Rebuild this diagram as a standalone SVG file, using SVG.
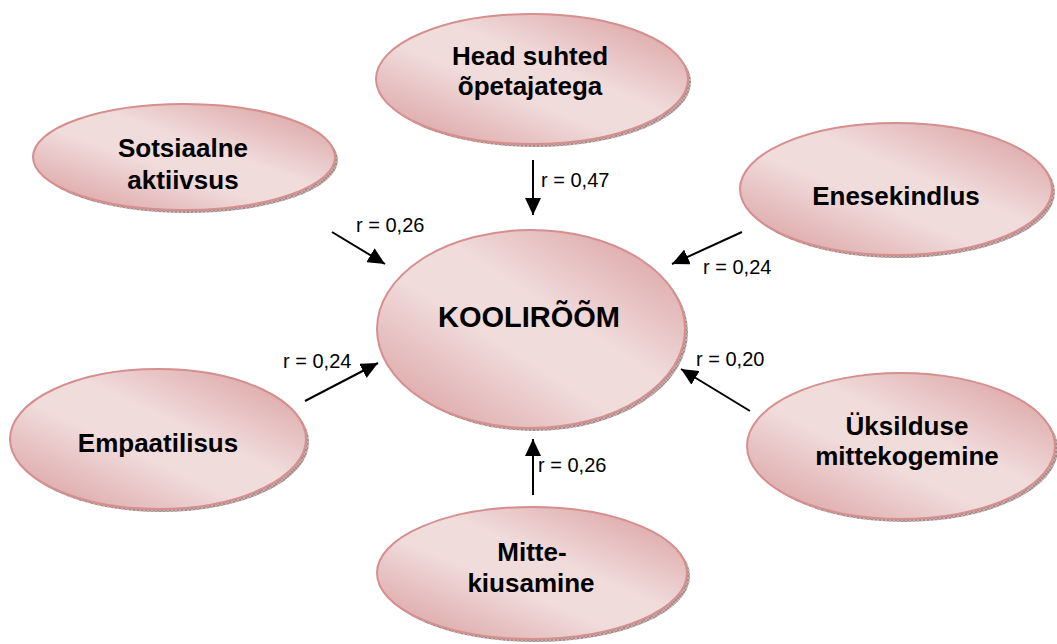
<svg xmlns="http://www.w3.org/2000/svg" width="1057" height="644" viewBox="0 0 1057 644">
<defs>
<linearGradient id="g" x1="1" y1="0" x2="0" y2="1">
<stop offset="0" stop-color="#d8999a"/>
<stop offset="0.42" stop-color="#f1dcdc"/>
<stop offset="0.58" stop-color="#f1dcdc"/>
<stop offset="1" stop-color="#d8999a"/>
</linearGradient>
<pattern id="hatch" width="4" height="4" patternUnits="userSpaceOnUse">
<rect width="4" height="4" fill="#c9aeae"/>
<path d="M0,0 L4,4 M4,0 L0,4" stroke="#8c7070" stroke-width="0.6"/>
</pattern>
<marker id="ah" markerUnits="userSpaceOnUse" markerWidth="18" markerHeight="16" refX="17" refY="8" orient="auto">
<path d="M0,0 L17,8 L0,16 Z" fill="#000"/>
</marker>
</defs>
<style>
.sh{fill:url(#hatch);}
.el{fill:url(#g);stroke:#d48f8e;stroke-width:2;}
.nt{font-family:"Liberation Sans",Arial,sans-serif;font-weight:bold;font-size:26px;fill:#000;text-anchor:middle;}
.big{font-size:29px;}
.lb{font-family:"Liberation Sans",Arial,sans-serif;font-size:20px;fill:#000;}
.cn{stroke:#000;stroke-width:2;fill:none;marker-end:url(#ah);}
</style>
<g id="connectors">
<line class="cn" x1="533" y1="160" x2="533" y2="215"/>
<line class="cn" x1="332" y1="232" x2="385" y2="264"/>
<line class="cn" x1="742" y1="232" x2="672" y2="264"/>
<line class="cn" x1="305" y1="401" x2="378" y2="363"/>
<line class="cn" x1="750" y1="411" x2="681" y2="369"/>
<line class="cn" x1="533" y1="495" x2="533" y2="439"/>
<text class="lb" x="541" y="187">r = 0,47</text>
<text class="lb" x="356" y="232">r = 0,26</text>
<text class="lb" x="703" y="274">r = 0,24</text>
<text class="lb" x="283" y="368">r = 0,24</text>
<text class="lb" x="696" y="366">r = 0,20</text>
<text class="lb" x="538" y="472">r = 0,26</text>
</g>
<g id="node-head">
<ellipse class="sh" cx="535" cy="82" rx="156" ry="65"/>
<ellipse class="el" cx="532" cy="79" rx="156" ry="65"/>
<text class="nt" x="530" y="65">Head suhted</text>
<text class="nt" x="530" y="95">õpetajatega</text>
</g>
<g id="node-sotsiaalne">
<ellipse class="sh" cx="187" cy="160" rx="151" ry="53"/>
<ellipse class="el" cx="184" cy="157" rx="151" ry="53"/>
<text class="nt" x="183" y="157">Sotsiaalne</text>
<text class="nt" x="183" y="189">aktiivsus</text>
</g>
<g id="node-enesekindlus">
<ellipse class="sh" cx="899" cy="192" rx="156" ry="66"/>
<ellipse class="el" cx="896" cy="189" rx="156" ry="66"/>
<text class="nt" x="896" y="205">Enesekindlus</text>
</g>
<g id="node-koolirõõm">
<ellipse class="sh" cx="534" cy="332" rx="154" ry="99"/>
<ellipse class="el" cx="531" cy="329" rx="154" ry="99"/>
<text class="nt big" x="529" y="327">KOOLIRÕÕM</text>
</g>
<g id="node-empaatilisus">
<ellipse class="sh" cx="161" cy="442" rx="148" ry="70"/>
<ellipse class="el" cx="158" cy="439" rx="148" ry="70"/>
<text class="nt" x="158" y="452">Empaatilisus</text>
</g>
<g id="node-yksildus">
<ellipse class="sh" cx="904" cy="449" rx="154" ry="73"/>
<ellipse class="el" cx="901" cy="446" rx="154" ry="73"/>
<text class="nt" x="907" y="435">Üksilduse</text>
<text class="nt" x="907" y="465">mittekogemine</text>
</g>
<g id="node-mittekiusamine">
<ellipse class="sh" cx="535" cy="576" rx="155" ry="66"/>
<ellipse class="el" cx="532" cy="573" rx="155" ry="66"/>
<text class="nt" x="532" y="561">Mitte-</text>
<text class="nt" x="531" y="592">kiusamine</text>
</g>
</svg>
